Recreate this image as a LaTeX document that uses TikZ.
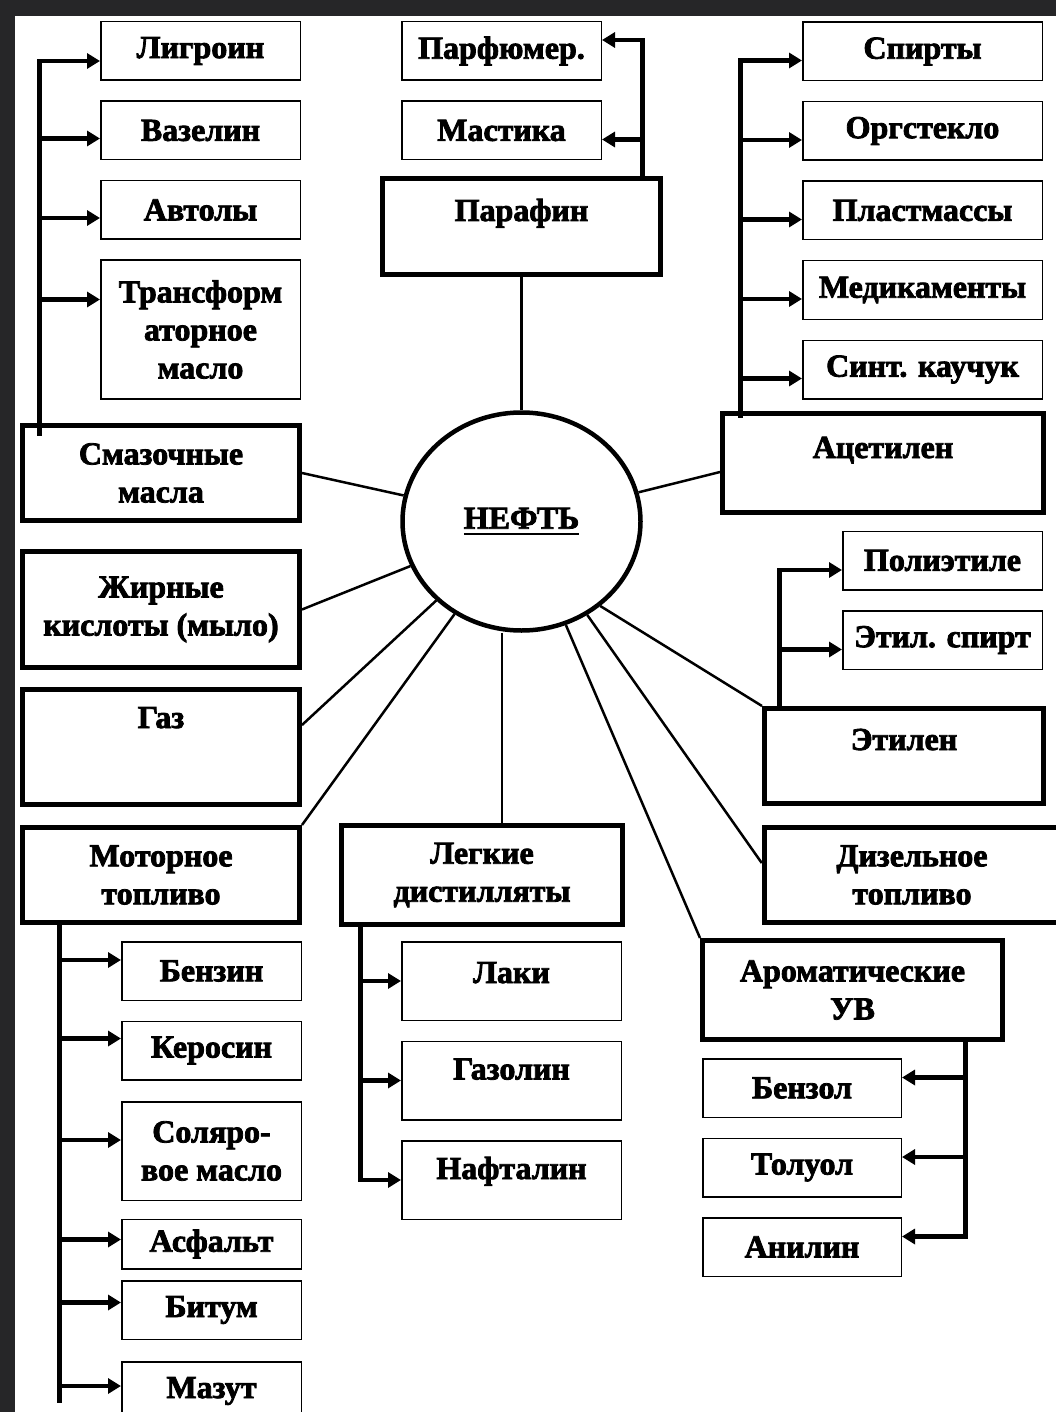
\documentclass[tikz,border=0pt]{standalone}
\usepackage{fontspec}
\setmainfont{Liberation Serif}
\newfontfamily\schemeserif{Liberation Serif}[BoldFeatures={FakeBold=2.5}]
\newcommand{\schemefont}{\schemeserif\bfseries\fontsize{32}{38}\selectfont}
\newsavebox{\ulinebox}
\newcommand{\thickunderline}[1]{\sbox{\ulinebox}{#1}\rlap{\rule[-6.5pt]{\wd\ulinebox}{2.5pt}}\usebox{\ulinebox}}
\usetikzlibrary{arrows.meta,positioning,shapes.geometric,calc}
\definecolor{slideDark}{RGB}{38,38,40}

\begin{document}
\begin{tikzpicture}[x=1pt,y=-1pt,
  node distance=19.5pt,
  item/.style={draw,line width=1.5pt,inner sep=0pt,minimum width=#1,minimum height=58.5pt,align=center,font=\schemefont},
  item/.default=199.5pt,
  group/.style={draw,line width=5pt,inner sep=0pt,align=center,font=\schemefont},
  lift/.style={text height=24pt,text depth=#1},
  spoke/.style={line width=2.5pt},
  trunk/.style={line width=4.5pt},
  feed/.style={trunk,-{Triangle[length=13pt,width=15pt]}}
]
  % slide frame
  \fill[slideDark] (0,0) rectangle (1056,1412);
  \fill[white] (15,16) rectangle (1056,1412);
  \useasboundingbox (0,0) rectangle (1056,1412);

  % centre
  \node[draw,ellipse,line width=4.5pt,minimum width=238pt,minimum height=218pt,font=\schemefont] (neft) at (521.5,521.5) {\thickunderline{НЕФТЬ}};

  % main groups
  \node[group,minimum width=277pt,minimum height=95pt] (smaz) at (161,473) {Смазочные\\масла};
  \node[group,minimum width=277pt,minimum height=116pt] (zhir) at (161,609.5) {Жирные\\кислоты (мыло)};
  \node[group,lift=62pt,minimum width=277pt,minimum height=115pt] (gaz) at (161,747) {Газ};
  \node[group,minimum width=277pt,minimum height=95pt] (motor) at (161,875) {Моторное\\топливо};
  \node[group,lift=35pt,minimum width=278pt,minimum height=96pt] (parafin) at (521.5,226.5) {Парафин};
  \node[group,minimum width=281pt,minimum height=99pt] (legkie) at (482,875) {Легкие\\дистилляты};
  \node[group,lift=34pt,minimum width=321pt,minimum height=99pt] (acetilen) at (883,463) {Ацетилен};
  \node[group,lift=36pt,minimum width=279pt,minimum height=95pt] (etilen) at (904,756) {Этилен};
  \node[group,minimum width=295.5pt,minimum height=95pt] (dizel) at (912,875) {Дизельное\\топливо};
  \node[group,minimum width=300pt,minimum height=99pt] (aromat) at (852.5,990) {Ароматические\\УВ};

  % lubricating oils
  \node[item] (ligroin) at (200.5,51) {Лигроин};
  \node[item,below=of ligroin] (vaselin) {Вазелин};
  \node[item,below=of vaselin] (avtol) {Автолы};
  \node[item,minimum height=138.5pt,below=of avtol] (transf) {Трансформ\\аторное\\масло};

  % paraffin
  \node[item] (parfum) at (501.5,51) {Парфюмер.};
  \node[item,below=of parfum] (mastika) {Мастика};

  % acetylene
  \node[item=239.5pt] (spirt) at (922.5,51.5) {Спирты};
  \node[item=239.5pt,below=of spirt] (orgsteklo) {Оргстекло};
  \node[item=239.5pt,below=of orgsteklo] (plast) {Пластмассы};
  \node[item=239.5pt,below=of plast] (medik) {Медикаменты};
  \node[item=239.5pt,below=of medik] (kauchuk) {Синт. каучук};

  % ethylene
  \node[item] (polietil) at (942.5,560.5) {Полиэтиле};
  \node[item,below=of polietil] (etilspirt) {Этил. спирт};

  % motor fuel
  \node[item=179.5pt] (benzin) at (211.5,971) {Бензин};
  \node[item=179.5pt,below=of benzin] (kerosin) {Керосин};
  \node[item=179.5pt,minimum height=98.5pt,below=20.5pt of kerosin] (solyar) {Соляро-\\вое масло};
  \node[item=179.5pt,minimum height=49.5pt,below=17.5pt of solyar] (asfalt) {Асфальт};
  \node[item=179.5pt,below=10.5pt of asfalt] (bitum) {Битум};
  \node[item=179.5pt,below=21pt of bitum] (mazut) {Мазут};

  % light distillates
  \node[item=219.5pt,minimum height=78.5pt,lift=20pt] (laki) at (511.5,981) {Лаки};
  \node[item=219.5pt,minimum height=78.5pt,lift=26pt,below=of laki] (gazolin) {Газолин};
  \node[item=219.5pt,minimum height=78.5pt,lift=26pt,below=of gazolin] (naftalin) {Нафталин};

  % aromatics
  \node[item=198.5pt] (benzol) at (802,1088) {Бензол};
  \node[item=198.5pt,below=of benzol] (toluol) {Толуол};
  \node[item=198.5pt,below=of toluol] (anilin) {Анилин};

  % spokes
  \draw[spoke] (parafin) -- (neft);
  \draw[spoke] (smaz.east) -- (neft);
  \draw[spoke] (zhir.east) -- (neft);
  \draw[spoke] ([yshift=22pt]gaz.east) -- (neft);
  \draw[spoke] (motor.north east) -- (neft);
  \coordinate (lightTop) at ([xshift=20pt]legkie.north);
  \draw[spoke] (lightTop) -- (lightTop |- neft.south);
  \draw[spoke] (aromat.north west) -- (neft);
  \draw[spoke] ([yshift=12pt]dizel.west) -- (neft);
  \draw[spoke] (etilen.north west) -- (neft.-47);
  \draw[spoke] ([yshift=-9pt]acetilen.west) -- (neft);

  % buses
  \coordinate (lubeBus) at ([xshift=19.5pt,yshift=-12.5pt]smaz.north west);
  \coordinate (acetBus) at ([xshift=20.5pt,yshift=-6.5pt]acetilen.north west);
  \coordinate (parBus) at ([xshift=-20.5pt,yshift=-3.5pt]parafin.north east);
  \coordinate (ethBus) at ([xshift=17.5pt,yshift=-3pt]etilen.north west);
  \coordinate (motorBus) at ([xshift=39.5pt]motor.south west);
  \coordinate (lightBus) at ([xshift=21.5pt]legkie.south west);
  \coordinate (aromBus) at ([xshift=-39.5pt]aromat.south east);

  \foreach \n/\dy in {ligroin/-10pt,vaselin/-8pt,avtol/-8pt,transf/30pt,
                      spirt/-9pt,orgsteklo/-9pt,plast/-9pt,medik/-9pt,kauchuk/-9pt,
                      polietil/-9.5pt,etilspirt/-9.5pt,
                      benzin/11pt,kerosin/12pt,solyar/11pt,asfalt/4.5pt,bitum/7.5pt,mazut/5pt,
                      laki/0pt,gazolin/0pt,naftalin/0pt}
    \coordinate (\n-in) at ([yshift=\dy]\n.west);
  \foreach \n/\dy in {parfum/11pt,mastika/-9pt,benzol/10.5pt,toluol/10.5pt,anilin/10.5pt}
    \coordinate (\n-in) at ([yshift=\dy]\n.east);

  \draw[feed] (lubeBus) |- (ligroin-in);
  \foreach \n in {vaselin,avtol,transf}
    \draw[feed] (lubeBus |- \n-in) -- (\n-in);

  \draw[feed] (parBus) |- (parfum-in);
  \draw[feed] (parBus |- mastika-in) -- (mastika-in);

  \draw[feed] (acetBus) |- (spirt-in);
  \foreach \n in {orgsteklo,plast,medik,kauchuk}
    \draw[feed] (acetBus |- \n-in) -- (\n-in);

  \draw[feed] (ethBus) |- (polietil-in);
  \draw[feed] (ethBus |- etilspirt-in) -- (etilspirt-in);

  \draw[trunk] (motorBus) -- ($(motorBus |- mazut-in)+(0,17)$);
  \foreach \n in {benzin,kerosin,solyar,asfalt,bitum,mazut}
    \draw[feed] (motorBus |- \n-in) -- (\n-in);

  \draw[feed] (lightBus) |- (naftalin-in);
  \foreach \n in {laki,gazolin}
    \draw[feed] (lightBus |- \n-in) -- (\n-in);

  \draw[feed] (aromBus) |- (anilin-in);
  \foreach \n in {benzol,toluol}
    \draw[feed] (aromBus |- \n-in) -- (\n-in);
\end{tikzpicture}
\end{document}
